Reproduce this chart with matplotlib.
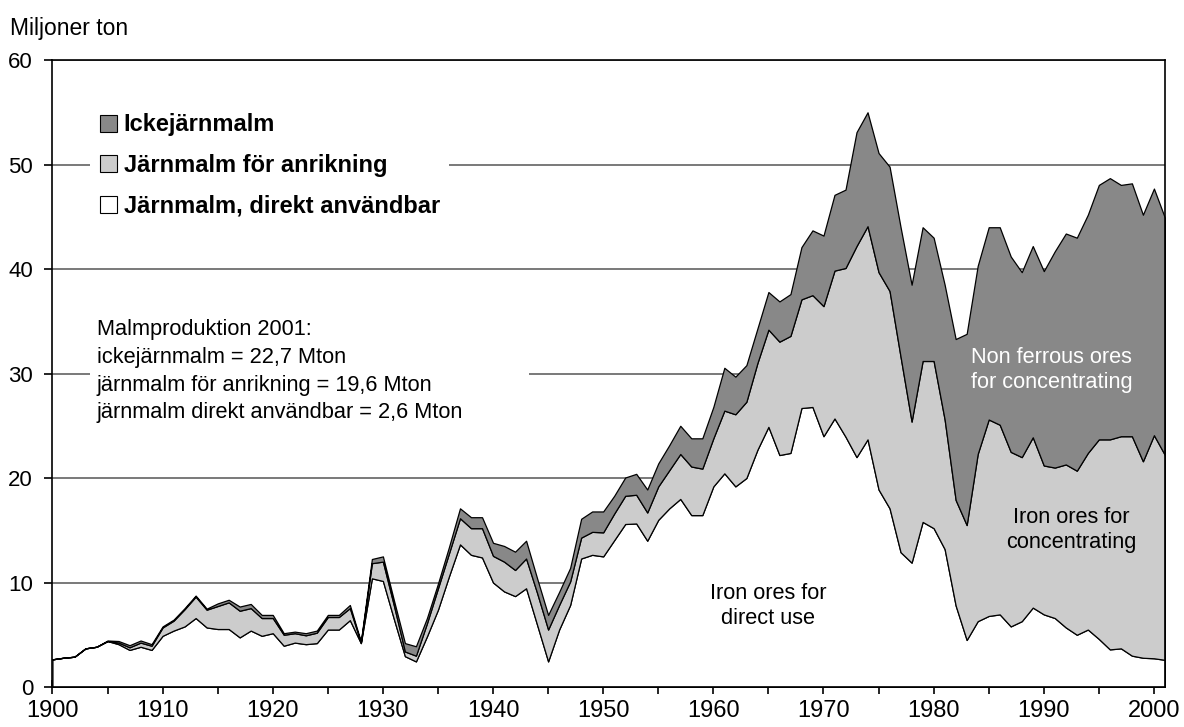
import matplotlib
matplotlib.use('Agg')
import matplotlib.pyplot as plt
from matplotlib.patches import Patch, Rectangle
from matplotlib.ticker import MultipleLocator

plt.rcParams['font.family'] = ['Liberation Sans', 'DejaVu Sans']

# years 1900..2001
years = list(range(1900, 2002))

# Järnmalm, direkt användbar (Mton)
direkt = [2.65, 2.8, 2.9, 3.7, 3.85, 4.4, 4.1, 3.55, 3.85, 3.55,
          4.9, 5.4, 5.8, 6.6, 5.7, 5.55, 5.55, 4.75, 5.4, 4.9,
          5.15, 3.95, 4.25, 4.1, 4.2, 5.5, 5.5, 6.4, 4.2, 10.4,
          10.15, 6.5, 2.95, 2.45, 4.85, 7.4, 10.6, 13.65, 12.65, 12.4,
          10.0, 9.15, 8.7, 9.45, 5.95, 2.45, 5.5, 7.85, 12.3, 12.65,
          12.5, 14.05, 15.6, 15.65, 14.0, 16.0, 17.1, 18.0, 16.45, 16.45,
          19.2, 20.45, 19.2, 20.0, 22.7, 24.9, 22.2, 22.4, 26.7, 26.8,
          24.0, 25.7, 23.95, 22.0, 23.7, 18.9, 17.1, 12.9, 11.9, 15.8,
          15.2, 13.2, 7.8, 4.5, 6.3, 6.8, 6.95, 5.8, 6.3, 7.6,
          6.95, 6.6, 5.7, 5.0, 5.5, 4.6, 3.6, 3.7, 3.0, 2.8,
          2.75, 2.6]

# Järnmalm för anrikning (Mton)
anrikning = [0, 0, 0, 0, 0, 0, 0.15, 0.25, 0.4, 0.4,
             0.8, 0.95, 1.65, 2.05, 1.7, 2.2, 2.55, 2.55, 2.15, 1.7,
             1.45, 1.05, 0.9, 0.85, 1.0, 1.2, 1.2, 1.15, 0.05, 1.45,
             1.85, 1.3, 0.45, 0.55, 1.25, 2.05, 2.2, 2.5, 2.55, 2.8,
             2.55, 2.85, 2.5, 2.85, 3.05, 3.05, 2.35, 2.25, 2.0, 2.2,
             2.3, 2.55, 2.7, 2.75, 2.7, 3.2, 3.65, 4.3, 4.65, 4.45,
             4.6, 6.0, 6.9, 7.3, 8.3, 9.3, 10.85, 11.2, 10.4, 10.7,
             12.45, 14.15, 16.15, 20.2, 20.4, 20.8, 20.8, 18.7, 13.5, 15.4,
             16.0, 12.4, 10.1, 11.0, 16.0, 18.8, 18.15, 16.7, 15.7, 16.3,
             14.25, 14.4, 15.6, 15.7, 16.9, 19.1, 20.1, 20.3, 21.0, 18.8,
             21.35, 19.6]

# Ickejärnmalm (Mton)
ickejarn = [0, 0, 0, 0, 0, 0.05, 0.15, 0.2, 0.2, 0.15,
            0.1, 0.1, 0.1, 0.1, 0.1, 0.25, 0.25, 0.4, 0.4, 0.3,
            0.3, 0.15, 0.15, 0.2, 0.2, 0.2, 0.2, 0.3, 0.1, 0.4,
            0.5, 0.5, 0.8, 0.9, 0.5, 0.45, 0.6, 0.95, 1.05, 1.05,
            1.25, 1.5, 1.75, 1.7, 1.4, 1.4, 1.25, 1.3, 1.8, 1.95,
            2.0, 1.7, 1.75, 2.0, 2.2, 2.2, 2.4, 2.7, 2.7, 2.9,
            3.0, 4.1, 3.6, 3.5, 3.3, 3.6, 3.85, 4.0, 5.0, 6.2,
            6.75, 7.25, 7.5, 10.9, 10.9, 11.4, 11.9, 12.4, 13.1, 12.8,
            11.8, 12.9, 15.4, 18.3, 18.0, 18.4, 18.9, 18.7, 17.7, 18.3,
            18.6, 20.7, 22.1, 22.3, 22.8, 24.35, 25.0, 24.05, 24.2, 23.6,
            23.6, 22.7]

legend_labels = ['Ickejärnmalm', 'Järnmalm för anrikning', 'Järnmalm, direkt användbar']
colors = ['white', '#cccccc', '#888888']

fig = plt.figure(figsize=(11.84, 7.27), dpi=100)
ax = fig.add_axes([0.0443, 0.055, 0.9396, 0.8624])

ax.stackplot(years, direkt, anrikning, ickejarn, colors=colors,
             edgecolor='black', linewidth=0.9)

ax.set_xlim(1900, 2001)
ax.set_ylim(0, 60)
ax.xaxis.set_major_locator(MultipleLocator(10))
ax.xaxis.set_minor_locator(MultipleLocator(5))
ax.yaxis.set_major_locator(MultipleLocator(10))
ax.tick_params(axis='x', which='both', direction='inout', length=10, width=1.2,
               labelsize=17, pad=4)
ax.tick_params(axis='y', direction='out', length=6, width=1.2, labelsize=16, pad=8)

ax.set_axisbelow(True)
ax.yaxis.grid(True, color='#555555', linewidth=1.1)
for sp in ax.spines.values():
    sp.set_linewidth(1.2)

fig.text(10 / 1184, 1 - 28 / 727, 'Miljoner ton', fontsize=16.5, va='center', ha='left')

handles = [Patch(facecolor=colors[2], edgecolor='black', linewidth=0.8),
           Patch(facecolor=colors[1], edgecolor='black', linewidth=0.8),
           Patch(facecolor=colors[0], edgecolor='black', linewidth=0.8)]
leg = ax.legend(handles, legend_labels, loc='upper left', bbox_to_anchor=(0.034, 0.93),
                borderaxespad=0, frameon=True, fancybox=False, framealpha=1,
                facecolor='white', edgecolor='none', handlelength=0.72, handleheight=0.72,
                handletextpad=0.3, labelspacing=0.75, borderpad=0.4,
                prop={'weight': 'bold', 'size': 17})

# white box behind the production note (hides the 30 gridline)
ax.add_patch(Rectangle((0.0337, 0.40), 0.395, 0.20, transform=ax.transAxes,
                       facecolor='white', edgecolor='none', zorder=2))
ax.text(1904.0, 35.2,
        'Malmproduktion 2001:\nickejärnmalm = 22,7 Mton\n'
        'järnmalm för anrikning = 19,6 Mton\njärnmalm direkt användbar = 2,6 Mton',
        fontsize=15.7, va='top', ha='left', linespacing=1.42, zorder=3)

ax.text(1965.0, 7.75, 'Iron ores for\ndirect use', fontsize=15.7, ha='center', va='center',
        linespacing=1.25)
ax.text(1992.5, 15.0, 'Iron ores for\nconcentrating', fontsize=15.7, ha='center', va='center',
        linespacing=1.25)
ax.text(1990.7, 30.3, 'Non ferrous ores\nfor concentrating', fontsize=15.7, ha='center',
        va='center', color='white', linespacing=1.25)

fig.savefig('out.png', dpi=100)
